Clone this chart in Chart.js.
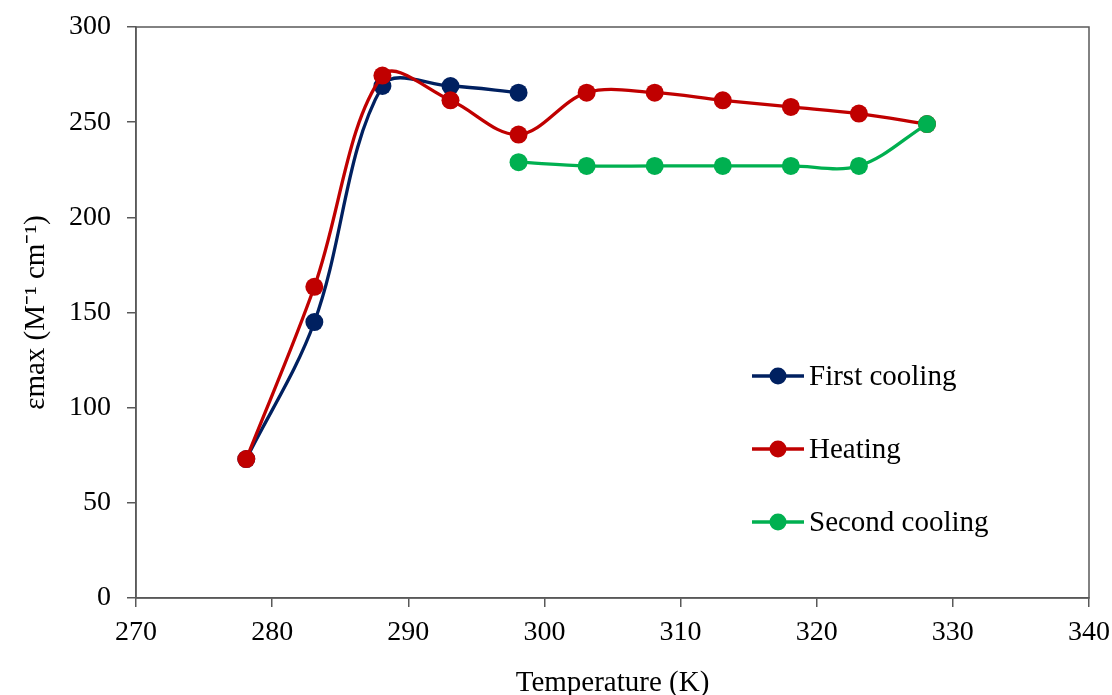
<!DOCTYPE html>
<html>
<head>
<meta charset="utf-8">
<script src="https://cdn.jsdelivr.net/npm/chart.js@4.4.1/dist/chart.umd.min.js"></script>
<style>
html,body{margin:0;padding:0;background:#fff;}
#wrap{width:1112px;height:695px;position:relative;}
</style>
</head>
<body>
<div id="wrap"><canvas id="c" width="1112" height="695"></canvas></div>
<script>
// Data
const firstCoolingT = [278.1, 283.1, 288.1, 293.1, 298.1];
const firstCoolingE = [73, 145, 269, 269, 265.5];
const heatingT = [278.1, 283.1, 288.1, 293.1, 298.1, 303.1, 308.1, 313.1, 318.1, 323.1, 328.1];
const heatingE = [73, 163.5, 274.5, 261.5, 243.5, 265.5, 265.5, 261.5, 258, 254.5, 249];
const secondCoolingT = [298.1, 303.1, 308.1, 313.1, 318.1, 323.1, 328.1];
const secondCoolingE = [229, 227, 227, 227, 227, 227, 249];
const seriesNames = ['First cooling', 'Heating', 'Second cooling'];
const seriesColors = ['#002060', '#C00000', '#00B050'];
const xTicks = [270, 280, 290, 300, 310, 320, 330, 340];
const yTicks = [0, 50, 100, 150, 200, 250, 300];

const toXY = (xs, ys) => xs.map((x, i) => ({x: x, y: ys[i]}));
const FONT = "'Liberation Serif', 'Times New Roman', serif";

function ds(name, data, color, order) {
  return {
    label: name, data: data, order: order,
    borderColor: color, backgroundColor: color,
    pointBackgroundColor: color, pointBorderColor: color,
    pointRadius: 9, pointHoverRadius: 9, pointBorderWidth: 0, borderWidth: 3.3,
    tension: 0.35, fill: false
  };
}

const frame = {
  id: 'frame',
  afterDraw(chart) {
    const {ctx, chartArea: a} = chart;
    ctx.save();
    ctx.strokeStyle = '#595959';
    ctx.lineWidth = 1.5;
    ctx.strokeRect(a.left, a.top, a.right - a.left, a.bottom - a.top);
    ctx.restore();
  }
};

const insideLegend = {
  id: 'insideLegend',
  afterDraw(chart) {
    const {ctx} = chart;
    const x0 = 752, x1 = 804, ys = [376, 449, 522];
    ctx.save();
    chart.data.datasets.forEach((d, i) => {
      const y = ys[i];
      ctx.strokeStyle = d.borderColor;
      ctx.lineWidth = 3.3;
      ctx.beginPath(); ctx.moveTo(x0, y); ctx.lineTo(x1, y); ctx.stroke();
      ctx.fillStyle = d.borderColor;
      ctx.beginPath(); ctx.arc((x0 + x1) / 2, y, 8.5, 0, Math.PI * 2); ctx.fill();
      ctx.fillStyle = '#000';
      ctx.font = '29px ' + FONT;
      ctx.textBaseline = 'middle';
      ctx.textAlign = 'left';
      ctx.fillText(d.label, 809, y + 1);
    });
    ctx.restore();
  }
};

new Chart(document.getElementById('c'), {
  type: 'line',
  data: {
    datasets: [
      ds(seriesNames[0], toXY(firstCoolingT, firstCoolingE), seriesColors[0], 3),
      ds(seriesNames[1], toXY(heatingT, heatingE), seriesColors[1], 2),
      ds(seriesNames[2], toXY(secondCoolingT, secondCoolingE), seriesColors[2], 1)
    ]
  },
  options: {
    responsive: false,
    animation: false,
    events: [],
    layout: {padding: {top: 27, right: 23, left: 0, bottom: 0}},
    plugins: {legend: {display: false}, tooltip: {enabled: false}},
    scales: {
      x: {
        type: 'linear', min: 270, max: 340,
        afterBuildTicks(s) { s.ticks = xTicks.map(v => ({value: v})); },
        afterFit(s) { s.height = 97; s.paddingLeft = 0; s.paddingRight = 0; },
        grid: {display: true, drawOnChartArea: false, tickLength: 9, color: '#595959', lineWidth: 1.5},
        border: {display: true, color: '#595959', width: 1.5},
        ticks: {color: '#000', font: {family: FONT, size: 28}, padding: 9, maxRotation: 0},
        title: {display: true, text: 'Temperature (K)', color: '#000', font: {family: FONT, size: 29}, padding: {top: 10, bottom: -6}}
      },
      y: {
        type: 'linear', min: 0, max: 300,
        afterBuildTicks(s) { s.ticks = yTicks.map(v => ({value: v})); },
        afterFit(s) { s.width = 136; s.paddingTop = 0; s.paddingBottom = 0; },
        grid: {display: true, drawOnChartArea: false, tickLength: 9, color: '#595959', lineWidth: 1.5},
        border: {display: true, color: '#595959', width: 1.5},
        ticks: {color: '#000', font: {family: FONT, size: 28}, padding: 16},
        title: {display: true, text: 'εmax (M⁻¹ cm⁻¹)', color: '#000', font: {family: FONT, size: 29}, padding: {top: 19, bottom: 0}}
      }
    }
  },
  plugins: [frame, insideLegend]
});
</script>
</body>
</html>
